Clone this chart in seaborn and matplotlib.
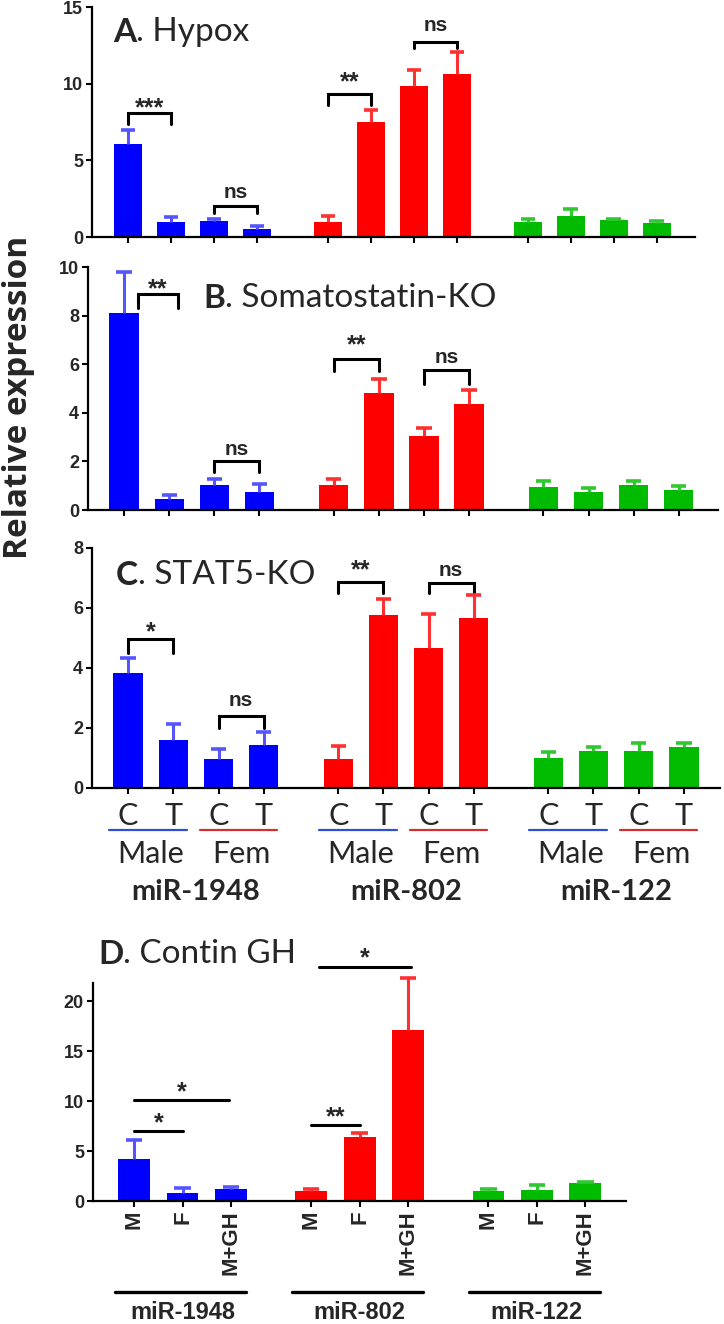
import numpy as np
import pandas as pd
import matplotlib
matplotlib.use('Agg')
import matplotlib.pyplot as plt
import matplotlib.transforms as mtransforms
from matplotlib.text import Annotation
import seaborn as sns

# ---- data ----
genes = ['miR-1948', 'miR-802', 'miR-122']
sexes = ['Male', 'Fem']
treatments = ['C', 'T']
gh_groups = ['M', 'F', 'M+GH']

hypox_mean = [6.05, 0.95, 1.05, 0.55, 0.95, 7.5, 9.85, 10.6, 1.0, 1.4, 1.1, 0.9]
hypox_sem = [0.95, 0.35, 0.1, 0.15, 0.4, 0.8, 1.05, 1.45, 0.2, 0.4, 0.1, 0.15]

sst_mean = [8.1, 0.45, 1.03, 0.75, 1.03, 4.8, 3.05, 4.35, 0.95, 0.75, 1.03, 0.82]
sst_sem = [1.7, 0.15, 0.25, 0.3, 0.24, 0.6, 0.33, 0.6, 0.25, 0.15, 0.17, 0.16]

stat5_mean = [3.83, 1.6, 0.97, 1.43, 0.97, 5.77, 4.67, 5.67, 1.0, 1.22, 1.22, 1.38]
stat5_sem = [0.52, 0.53, 0.33, 0.43, 0.43, 0.53, 1.13, 0.75, 0.2, 0.16, 0.28, 0.12]

gh_mean = [4.2, 0.85, 1.25, 1.0, 6.45, 17.1, 1.0, 1.15, 1.8]
gh_sem = [1.9, 0.45, 0.2, 0.2, 0.35, 5.2, 0.25, 0.45, 0.15]

# significance: (bar a, bar b, bracket y, leg y, label, label y)
hypox_sig = [(0, 1, 8.1, 7.4, '***', 8.9), (2, 3, 2.05, 1.55, 'ns', 2.9),
             (4, 5, 9.3, 8.6, '**', 10.6), (6, 7, 12.7, 12.3, 'ns', 13.8)]
sst_sig = [(0.3, 1.2, 8.9, 8.3, '**', 9.4), (2, 3, 2.0, 1.55, 'ns', 2.5),
           (4, 5, 6.2, 5.7, '**', 7.1), (6, 7, 5.75, 5.2, 'ns', 6.3)]
stat5_sig = [(0, 1, 4.97, 4.5, '*', 5.45), (2, 3, 2.4, 2.0, 'ns', 2.93),
             (4, 5, 6.87, 6.5, '**', 7.5), (6, 7, 6.85, 6.5, 'ns', 7.25)]
gh_sig = [(0, 1, 7.0, None, '*', 8.5), (0, 1.95, 10.1, None, '*', 11.6),
          (3, 4, 7.65, None, '**', 9.1), (3.15, 5.05, 23.4, None, '*', 25.0)]

# ---- style ----
sns.set_theme(style='ticks')
plt.rcParams['font.family'] = ['Lato', 'DejaVu Sans']
ARIAL = ['Liberation Sans', 'DejaVu Sans']

bar_colors = {'miR-1948': '#0000ff', 'miR-802': '#ff0000', 'miR-122': '#00bb00'}
err_colors = {'miR-1948': '#5555ff', 'miR-802': '#ff3030', 'miR-122': '#30c830'}

W, H = 724, 1324
fig = plt.figure(figsize=(W / 100, H / 100), dpi=100)
GAP = 0.65


def fy(py):
    return 1 - py / H


def add_ax(left, right, top, bottom):
    ax = fig.add_axes([left / W, fy(bottom), (right - left) / W, (bottom - top) / H])
    ax.patch.set_alpha(0)
    return ax


def positions(n, per_group):
    idx = np.arange(n)
    return idx + GAP * (idx // per_group)


def to_pos(i, per_group):
    return i + GAP * (int(i) // per_group)


def bar_panel(ax, mean, sem, per_group, xlim, ylim, yticks):
    n = len(mean)
    pos = positions(n, per_group)
    gene = np.repeat(genes, per_group)
    df = pd.DataFrame({'pos': pos, 'value': mean, 'sem': sem, 'gene': gene})
    sns.barplot(data=df, x='pos', y='value', hue='gene', palette=bar_colors,
                native_scale=True, width=0.65, saturation=1, errorbar=None,
                legend=False, linewidth=0, ax=ax)
    ecol = [err_colors[g] for g in df['gene']]
    top = df['value'] + df['sem']
    ax.vlines(df['pos'], df['value'], top, colors=ecol, lw=2.2, zorder=3, clip_on=False)
    ax.hlines(top, df['pos'] - 0.17, df['pos'] + 0.17, colors=ecol, lw=2.6, zorder=3,
              clip_on=False)
    ax.set_xlim(*xlim)
    ax.set_ylim(*ylim)
    ax.set_yticks(yticks)
    ax.set_yticklabels([str(t) for t in yticks], fontfamily=ARIAL, fontweight='bold',
                       fontsize=13)
    ax.set_xticks(pos)
    ax.set_xticklabels([])
    ax.set_xlabel('')
    ax.set_ylabel('')
    ax.tick_params(axis='both', direction='out', length=4.5, width=1.5, color='black',
                   pad=2)
    for s in ['left', 'bottom']:
        ax.spines[s].set_linewidth(1.6)
        ax.spines[s].set_color('black')
    sns.despine(ax=ax)
    return pos


def sig_marks(ax, sig, per_group, legs=True):
    for a, b, yb, yl, lab, yt in sig:
        xa, xb = to_pos(a, per_group), to_pos(b, per_group)
        if legs:
            ax.plot([xa, xa, xb, xb], [yl, yb, yb, yl], color='black', lw=2.2,
                    solid_joinstyle='miter', clip_on=False)
        else:
            ax.plot([xa, xb], [yb, yb], color='black', lw=2.2, clip_on=False)
        star = lab.startswith('*')
        fs = 18 if star else 15
        k = 0.58 if star else 0.27
        ax.annotate(lab, xy=((xa + xb) / 2, yt), xytext=(0, -k * fs),
                    textcoords='offset points', ha='center', va='baseline',
                    fontsize=fs, fontweight='bold', fontfamily=ARIAL,
                    annotation_clip=False)


def title(letter, rest, x_px, base_px):
    t = fig.text(x_px / W, fy(base_px), letter, fontsize=24, fontweight='bold',
                 va='baseline', ha='left')
    fig.add_artist(Annotation(rest, xy=(1, 0), xycoords=t, va='bottom', ha='left',
                              fontsize=24, annotation_clip=False))


# ---- panels A-C ----
axA = add_ax(92, 695, 7, 237)
bar_panel(axA, hypox_mean, hypox_sem, 4, (-0.84, 13.19), (0, 15), [0, 5, 10, 15])
sig_marks(axA, hypox_sig, 4)

axB = add_ax(88, 718, 267, 510)
bar_panel(axB, sst_mean, sst_sem, 4, (-0.8, 13.17), (0, 10), [0, 2, 4, 6, 8, 10])
sig_marks(axB, sst_sig, 4)

axC = add_ax(92, 720, 548, 788)
posC = bar_panel(axC, stat5_mean, stat5_sem, 4, (-0.8, 13.1), (0, 8), [0, 2, 4, 6, 8])
sig_marks(axC, stat5_sig, 4)

# C/T, Male/Fem and gene labels under panel C
trC = mtransforms.blended_transform_factory(axC.transData, fig.transFigure)
labels_ct = [treatments[i % 2] for i in range(len(posC))]
for x, lab in zip(posC, labels_ct):
    axC.text(x, fy(825), lab, transform=trC, ha='center', va='baseline', fontsize=22,
             clip_on=False)
sex_colors = {'Male': '#2f4fcf', 'Fem': '#d03030'}
for g in range(len(genes)):
    for s, sex in enumerate(sexes):
        x0 = posC[g * 4 + s * 2]
        x1 = posC[g * 4 + s * 2 + 1]
        axC.plot([x0 - 0.42, x1 + 0.3], [fy(830), fy(830)], transform=trC,
                 color=sex_colors[sex], lw=1.6, clip_on=False)
        axC.text((x0 + x1) / 2, fy(863), sex, transform=trC, ha='center',
                 va='baseline', fontsize=22, clip_on=False)
    xc = (posC[g * 4] + posC[g * 4 + 3]) / 2
    axC.text(xc, fy(900), genes[g], transform=trC, ha='center', va='baseline',
             fontsize=21, fontweight='bold', clip_on=False)

# ---- panel D ----
axD = add_ax(93, 626, 983, 1201)
posD = bar_panel(axD, gh_mean, gh_sem, 3, (-0.85, 10.14), (0, 21.8), [0, 5, 10, 15, 20])
sig_marks(axD, gh_sig, 3, legs=False)
axD.set_xticklabels([gh_groups[i % 3] for i in range(len(posD))], rotation=90,
                    fontfamily=ARIAL, fontweight='bold', fontsize=16)
trD = mtransforms.blended_transform_factory(axD.transData, fig.transFigure)
for g in range(len(genes)):
    x0, x1 = posD[g * 3], posD[g * 3 + 2]
    axD.plot([x0 - 0.4, x1 + 0.3], [fy(1292), fy(1292)], transform=trD, color='black',
             lw=2.4, clip_on=False)
    axD.text(posD[g * 3 + 1], fy(1319), genes[g], transform=trD, ha='center',
             va='baseline', fontsize=17, fontweight='bold', fontfamily=ARIAL,
             clip_on=False)

# ---- titles and shared y label ----
title('A', '. Hypox', 113, 42)
title('B', '. Somatostatin-KO', 203, 308)
title('C', '. STAT5-KO', 116, 585)
title('D', '. Contin GH', 98, 964)

fig.text(19 / W, fy(397), 'Relative expression', rotation=90, ha='center', va='center',
         fontsize=24, fontweight='bold', fontfamily=['Open Sans', 'DejaVu Sans'])

fig.savefig('out.png', dpi=100)
